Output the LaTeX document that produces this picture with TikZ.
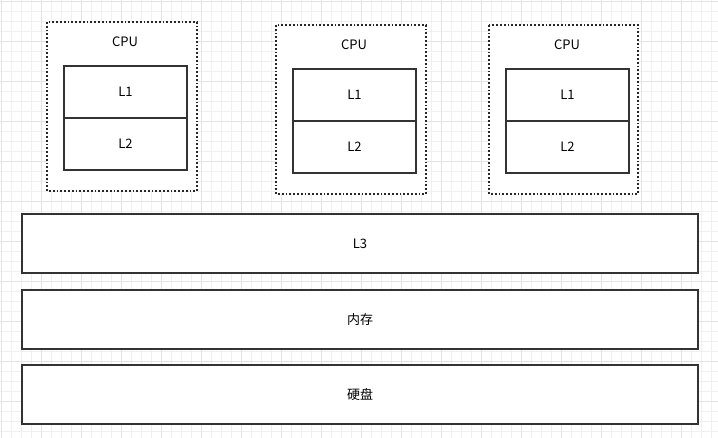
\documentclass[tikz,border=0pt]{standalone}
\usepackage{fontspec}
\setmainfont{Noto Sans CJK SC}
\begin{document}
\begin{tikzpicture}[x=1pt,y=-1pt,
 box/.style={draw=black!80,line width=1.8pt,fill=white,font=\fontsize{13}{15}\selectfont},
 cpu/.style={draw=black!85,line width=1.8pt,dotted,fill=white}]
\useasboundingbox (0,0) rectangle (718,438);
\fill[white] (0,0) rectangle (718,438);
\foreach \i in {0,10,...,710} \draw[black!6,line width=0.5pt] (\i+1,0) -- (\i+1,438);
\foreach \i in {0,10,...,430} \draw[black!6,line width=0.5pt] (0,\i+1) -- (718,\i+1);
\foreach \i in {0,40,...,710} \draw[black!11,line width=0.5pt] (\i+1,0) -- (\i+1,438);
\foreach \i in {0,40,...,430} \draw[black!11,line width=0.5pt] (0,\i+1) -- (718,\i+1);
\draw[cpu] (47,22) rectangle (197,191);
\node[font=\fontsize{13}{15}\selectfont] (c1) at (125,42) {CPU};
\node[box,minimum width=123pt,minimum height=52pt] (a1) at (125.5,92) {L1};
\node[box,minimum width=123pt,minimum height=52pt] (b1) at (125.5,144) {L2};
\draw[cpu] (276,25) rectangle (426,194);
\node[font=\fontsize{13}{15}\selectfont] (c2) at (354,45) {CPU};
\node[box,minimum width=123pt,minimum height=52pt] (a2) at (354.5,95) {L1};
\node[box,minimum width=123pt,minimum height=52pt] (b2) at (354.5,147) {L2};
\draw[cpu] (489,25) rectangle (638,194);
\node[font=\fontsize{13}{15}\selectfont] (c3) at (567,45) {CPU};
\node[box,minimum width=123pt,minimum height=52pt] (a3) at (567.5,95) {L1};
\node[box,minimum width=123pt,minimum height=52pt] (b3) at (567.5,147) {L2};
\node[box,minimum width=676pt,minimum height=59pt] (l3) at (360,243.5) {L3};
\node[box,minimum width=676pt,minimum height=59pt] (mem) at (360,319.5) {内存};
\node[box,minimum width=676pt,minimum height=59pt] (disk) at (360,394.5) {硬盘};
\end{tikzpicture}
\end{document}
